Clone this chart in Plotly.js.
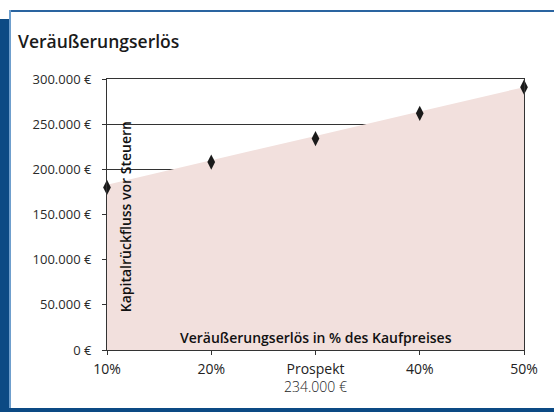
<!DOCTYPE html>
<html>
<head>
<meta charset="utf-8">
<script src="https://cdn.plot.ly/plotly-3.0.1.min.js"></script>
<style>
  html, body { margin:0; padding:0; background:#fff; overflow:hidden; width:554px; height:412px; }
  #wrap { position:relative; width:554px; height:412px; overflow:hidden; }
  #chart { position:absolute; left:0; top:0; width:554px; height:412px; }
  .bar { position:absolute; z-index:10; }
</style>
</head>
<body>
<div id="wrap">
  <div id="chart"></div>
  <div class="bar" style="left:9px; top:10px; width:545px; height:2px; background:#2a64a0;"></div>
  <div class="bar" style="left:9px; top:10px; width:2px; height:400px; background:#6f9fcd;"></div>
  <div class="bar" style="left:0px; top:19px; width:9px; height:393px; background:#0c4a84;"></div>
  <div class="bar" style="left:0px; top:408px; width:554px; height:4px; background:#0c4a84;"></div>
</div>
<script>
const categories = ['10%', '20%', 'Prospekt', '40%', '50%'];
const tickLabels = ['10%', '20%', 'Prospekt<br><span style="font-weight:300">234.000 €</span>', '40%', '50%'];
const markerValues = [180000, 208000, 234000, 262000, 291000];
const areaValues = [183000, 210000, 237000, 264000, 291000];
const yTickVals = [0, 50000, 100000, 150000, 200000, 250000, 300000];
const yTickLabels = ['0 €', '50.000 €', '100.000 €', '150.000 €', '200.000 €', '250.000 €', '300.000 €'];

const tickFont = {family: '"Open Sans", "Noto Sans", sans-serif', size: 13, color: '#2a2a2a', weight: 400};
const labelFont = {family: '"Open Sans", "Noto Sans", sans-serif', size: 14, color: '#111', weight: 600};

const traces = [
  {
    x: categories, y: areaValues, type: 'scatter', mode: 'none',
    fill: 'tozeroy', fillcolor: '#f2e0dd', hoverinfo: 'skip', showlegend: false
  },
  {
    x: categories, y: markerValues, type: 'scatter', mode: 'markers',
    marker: {symbol: 'diamond-tall', size: 11, color: '#1a1a1a'}, showlegend: false, cliponaxis: false
  }
];

const layout = {
  width: 554, height: 412,
  margin: {l: 107, r: 30, t: 79, b: 62},
  paper_bgcolor: '#ffffff', plot_bgcolor: '#ffffff',
  showlegend: false,
  title: {
    text: 'Veräußerungserlös',
    x: 18/554, xanchor: 'left', xref: 'container',
    y: 1 - 42/412, yanchor: 'middle', yref: 'container',
    font: {family: '"Open Sans", "Noto Sans", sans-serif', size: 17.5, color: '#1a1a1a', weight: 600}
  },
  xaxis: {
    type: 'category', range: [0, 4],
    tickvals: categories, ticktext: tickLabels,
    showgrid: false, zeroline: false,
    showline: true, linecolor: '#333', linewidth: 1, mirror: true,
    ticks: 'outside', ticklen: 4, tickcolor: '#333',
    tickfont: {family: '"Open Sans", "Noto Sans", sans-serif', size: 14, color: '#222', weight: 500},
    ticklabelstandoff: 2, automargin: false
  },
  yaxis: {
    range: [0, 300000], tickvals: yTickVals, ticktext: yTickLabels,
    showgrid: true, gridcolor: '#333', gridwidth: 1, zeroline: false,
    showline: true, linecolor: '#333', linewidth: 1, mirror: true,
    ticks: 'outside', ticklen: 4, tickcolor: '#333',
    tickfont: tickFont, ticklabelstandoff: 8, automargin: false
  },
  annotations: [
    {
      text: 'Kapitalrückfluss vor Steuern', textangle: -90,
      xref: 'paper', yref: 'paper', x: 18/417, y: 0.49,
      xanchor: 'center', yanchor: 'middle', showarrow: false, font: labelFont
    },
    {
      text: 'Veräußerungserlös in % des Kaufpreises',
      xref: 'paper', yref: 'paper', x: 0.5, y: 13/271,
      xanchor: 'center', yanchor: 'middle', showarrow: false, font: labelFont
    }
  ]
};

Plotly.newPlot('chart', traces, layout, {displayModeBar: false, staticPlot: true});
</script>
</body>
</html>
